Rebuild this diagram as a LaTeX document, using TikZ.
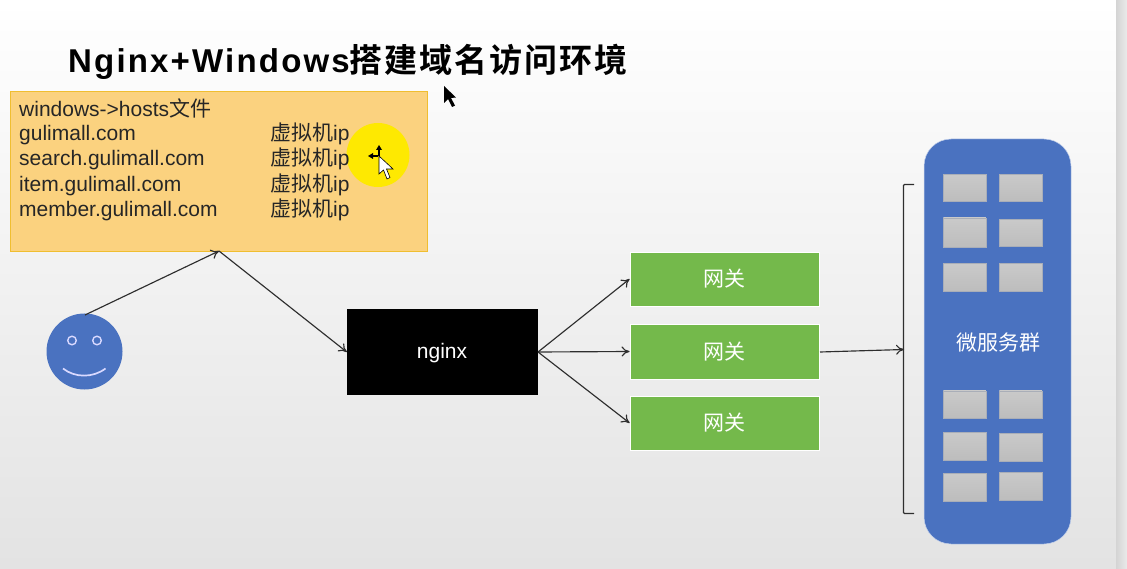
\documentclass[tikz,border=0pt]{standalone}
\usepackage{fontspec}
\setmainfont{Liberation Sans}
\newfontfamily\cjk{Noto Sans CJK SC}
\newfontfamily\titlefont[LetterSpace=6.6,BoldFont={Liberation Sans Bold}]{Liberation Sans}
\newfontfamily\titlecjk[LetterSpace=6]{Noto Sans CJK SC Bold}
\usetikzlibrary{arrows.meta,shadings}
\definecolor{panelblue}{HTML}{4A72C0}
\definecolor{gwgreen}{HTML}{74B94B}
\definecolor{hostfill}{HTML}{FBD27F}
\definecolor{hostedge}{HTML}{F0BE30}
\definecolor{linegrey}{HTML}{2E2E2E}
\definecolor{celledge}{HTML}{A9AEB8}
\tikzset{
  x=1pt,y=-1pt,
  gateway/.style={fill=gwgreen,draw=white,line width=.8pt,minimum width=189.5pt,minimum height=54pt,inner sep=0pt,text=white,font=\cjk\fontsize{21}{24}\selectfont},
  cell/.style={top color=gray!42,bottom color=gray!52,draw=celledge,line width=.5pt,inner sep=0pt,minimum width=42.5pt,minimum height=27.5pt},
  conn/.style={draw=linegrey,line width=1.15pt,-{To[length=8pt,width=10pt]}},
  hostline/.style={anchor=base west,inner sep=0pt,text=black!85,font=\fontsize{21}{24}\selectfont},
}
\begin{document}
\begin{tikzpicture}
\useasboundingbox (0,0) rectangle (1127,569);
% background
\shade[top color=white,middle color=white!97!black,bottom color=black!11] (0,0) rectangle (1116,569);
\shade[left color=black!17,right color=black!8] (1116,0) rectangle (1127,569);
% title
\node[anchor=base west,inner sep=0pt,font=\fontsize{33}{36}\selectfont] (title) at (68,72.5)
  {{\titlefont\bfseries Nginx+Windows}{\titlecjk 搭建域名访问环境}};
% hosts box
\node[fill=hostfill,draw=hostedge,line width=.8pt,minimum width=417.5pt,minimum height=160pt,inner sep=0pt] (hosts) at (219,171) {};
% highlight + cursors
\fill[yellow!92!orange] (378,155) ellipse [x radius=31.5,y radius=32];
\draw[black,fill=white,line width=.6pt] (379,156) -- (379,174) -- (383.5,170) -- (387,179) -- (390,177.5) -- (386.5,169) -- (393,169) -- cycle;
\draw[black,line width=1.1pt] (371,156) -- (378,156) (379,149) -- (379,156);
\fill[black] (379,145) -- (376,150) -- (382,150) -- cycle (368,156) -- (373,153) -- (373,159) -- cycle;
\fill[black] (444,86) -- (444,103) -- (448,99) -- (452,107) -- (455,105.5) -- (451,98) -- (456,97.5) -- cycle;
\node[hostline] (h0) at (19,116.5) {windows->hosts{\cjk 文件}};
\node[hostline] (h1) at (19,141) {gulimall.com};
\node[hostline] (h2) at (19,166) {search.gulimall.com};
\node[hostline] (h3) at (19,192) {item.gulimall.com};
\node[hostline] (h4) at (19,216.5) {member.gulimall.com};
\node[hostline] (v1) at (270,141) {{\cjk 虚拟机}ip};
\node[hostline] (v2) at (270,166) {{\cjk 虚拟机}ip};
\node[hostline] (v3) at (270,192) {{\cjk 虚拟机}ip};
\node[hostline] (v4) at (270,216.5) {{\cjk 虚拟机}ip};
% face
\node[circle,fill=panelblue,minimum size=76pt,inner sep=0pt] (face) at (84.5,351.5) {};
\draw[white!85!blue,line width=1.4pt] (72,340.5) circle (4.3) (97,340.5) circle (4.3);
\draw[white!85!blue,line width=1.7pt] (63,368.5) .. controls (75,378) and (93,378) .. (105.5,368.5);
% nginx
\node[fill=black,text=white,minimum width=191pt,minimum height=86pt,inner sep=0pt] (nginx) at (442.5,352) {};
\node[text=white,inner sep=0pt,font=\fontsize{21}{24}\selectfont] (nginxlabel) at (442,353) {nginx};
% gateways
\node[gateway] (g1) at (724.7,279) {\raisebox{-2pt}{网关}};
\node[gateway,minimum height=55pt] (g2) at (724.7,351.5) {\raisebox{-2pt}{网关}};
\node[gateway] (g3) at (724.7,423) {\raisebox{-2pt}{网关}};
% panel
\node[fill=panelblue,draw=white!70!panelblue,line width=.5pt,rounded corners=27pt,minimum width=147pt,minimum height=405pt,inner sep=0pt] (panel) at (997.5,341.5) {};
\node[text=white,inner sep=0pt,font=\cjk\fontsize{21}{24}\selectfont] (plabel) at (998,343) {微服务群};
\node[cell] (c1) at (964.5,188) {};
\node[cell] (c2) at (1020.5,188) {};
\node[cell,minimum height=29pt] (c3) at (964.5,232.5) {};
\node[cell] (c4) at (1020.5,233) {};
\node[cell] (c5) at (964.5,277.5) {};
\node[cell] (c6) at (1020.5,277.5) {};
\node[cell] (c7) at (964.5,404.5) {};
\node[cell] (c8) at (1020.5,404.5) {};
\node[cell] (c9) at (964.5,446) {};
\node[cell] (c10) at (1020.5,447) {};
\node[cell] (c11) at (964.5,487) {};
\node[cell] (c12) at (1020.5,486) {};
% connectors
\coordinate (apex) at (219,251);
\coordinate (faceout) at (85,315);
\coordinate (nginxout) at (538,352);
\coordinate (brk) at (904,349.5);
\coordinate (g2out) at (820,352);
\draw[conn] (faceout) -- (apex);
\draw[conn] (apex) -- (nginx.west);
\draw[conn] (nginxout) -- (g1.west);
\draw[conn] (nginxout) -- (g2.west);
\draw[conn] (nginxout) -- (g3.west);
\draw[conn] (g2out) -- (brk);
\draw[draw=linegrey,line width=1.2pt,rounded corners=1pt] (914,184.5) -- (903.5,184.5) -- (903.5,513.5) -- (914,513.5);
\end{tikzpicture}
\end{document}
